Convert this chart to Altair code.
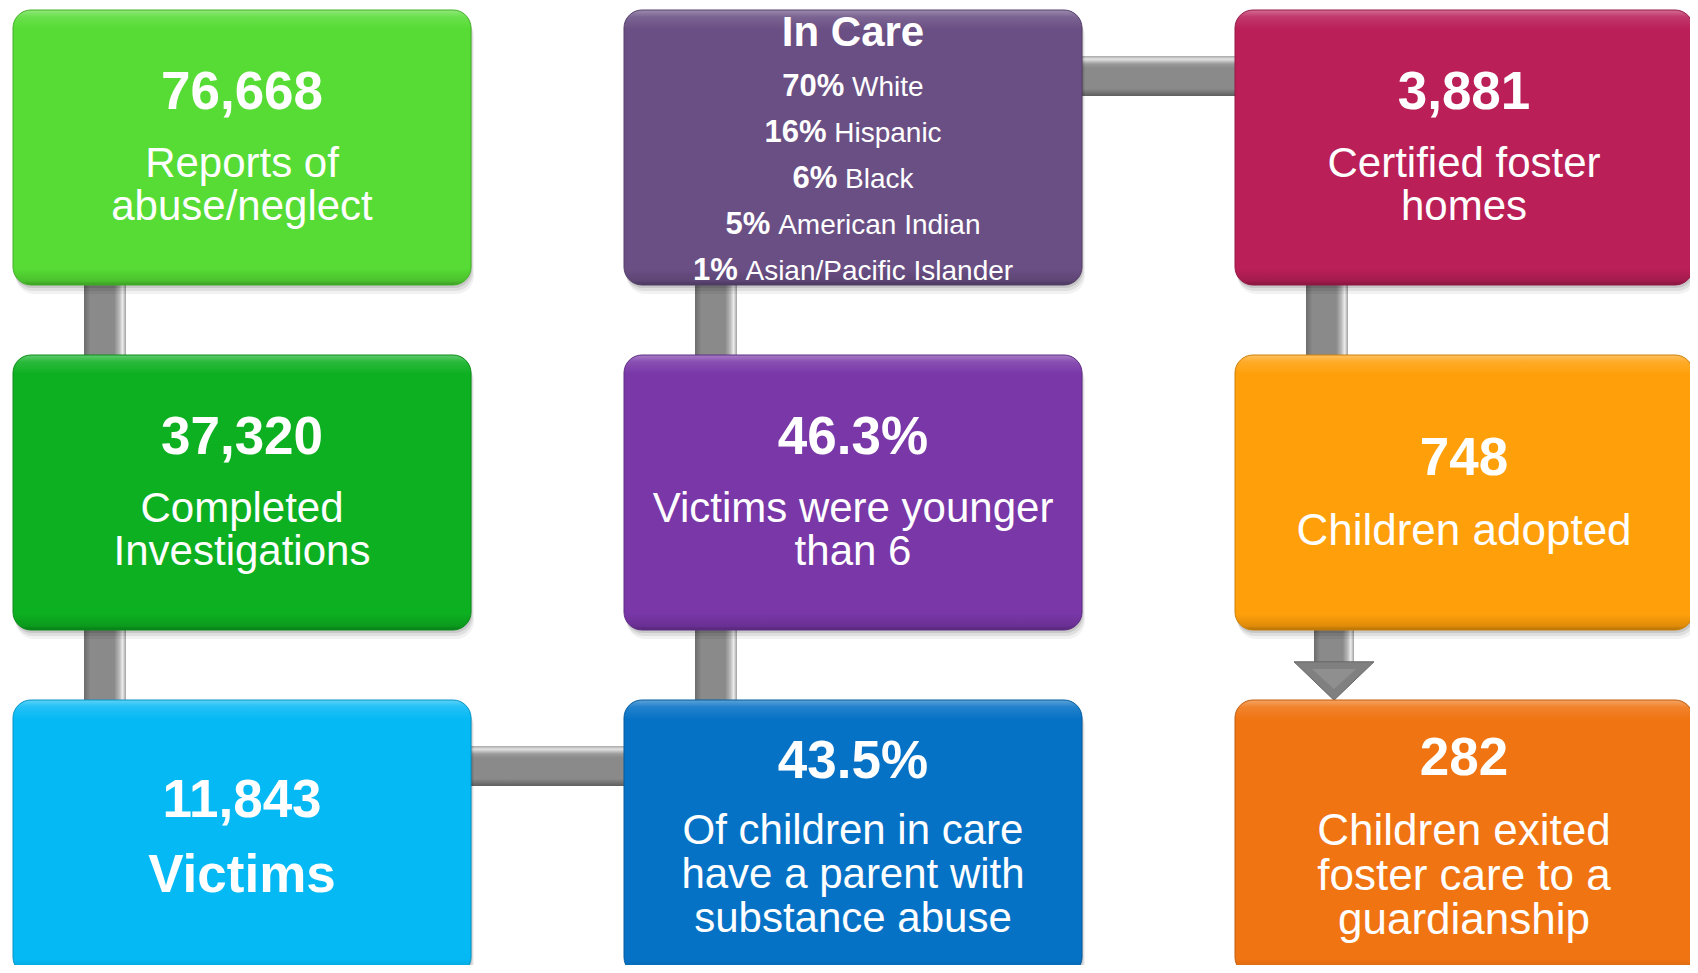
import altair as alt
import pandas as pd

# ---------------- data ----------------
box_numbers = ["76,668", "37,320", "11,843", "In Care", "46.3%", "43.5%", "3,881", "748", "282"]
box_labels = [
    ["Reports of", "abuse/neglect"],
    ["Completed", "Investigations"],
    ["Victims"],
    [],
    ["Victims were younger", "than 6"],
    ["Of children in care", "have a parent with", "substance abuse"],
    ["Certified foster", "homes"],
    ["Children adopted"],
    ["Children exited", "foster care to a", "guardianship"],
]
box_cols = [0, 0, 0, 1, 1, 1, 2, 2, 2]
box_rows = [0, 1, 2, 0, 1, 2, 0, 1, 2]
box_colors = ["#56DC34", "#0DB021", "#05B9F5", "#6A4F84", "#7937A8",
              "#0672C6", "#BA1F58", "#FFA00B", "#F07412"]

in_care_pcts = ["70%", "16%", "6%", "5%", "1%"]
in_care_groups = ["White", "Hispanic", "Black", "American Indian", "Asian/Pacific Islander"]

# connectors (col, row) of the upper / left box
vlink_col = [0, 0, 1, 1, 2]
vlink_row = [0, 1, 0, 1, 0]
hlink_col = [1, 0]
hlink_row = [0, 2]
arrow_col = [2]
arrow_row = [1]

# ---------------- layout / style ----------------
W, H = 1682, 957
LEFT, TOP = 13, 10
PITCH_X, PITCH_Y = 611, 345
BOX_W, BOX_H = 458, 275
RADIUS = 18
NUM_FS = 53
label_fs = [42, 42, 53, 0, 42, 42, 42, 44, 44]
label_gap = [68, 68, 75, 0, 68, 66, 68, 70, 70]
label_lh = [43.5, 43.5, 43.5, 0, 43.5, 44, 43.5, 44.5, 44.5]
bold_label_boxes = {"11,843"}

AR = {' ': 278, 'A': 667, 'B': 667, 'H': 722, 'I': 278, 'P': 667, 'W': 944, 'a': 556,
      'c': 500, 'd': 556, 'e': 556, 'f': 278, 'h': 556, 'i': 222, 'k': 500, 'l': 222,
      'm': 833, 'n': 556, 'p': 556, 'r': 333, 's': 500, 't': 278, '/': 278}


def width_reg(s, fs):
    return sum(AR.get(ch, 556) for ch in s) * fs / 1000.0


def width_bold(s, fs):
    return sum(889 if ch == '%' else 556 for ch in s) * fs / 1000.0


def shade(hexc, f):
    r, g, b = (int(hexc[i:i + 2], 16) for i in (1, 3, 5))
    if f >= 0:
        r, g, b = (int(c + (255 - c) * f) for c in (r, g, b))
    else:
        r, g, b = (int(c * (1 + f)) for c in (r, g, b))
    return "#%02x%02x%02x" % (r, g, b)


def bx(c):
    return LEFT + c * PITCH_X


def by(r):
    return TOP + r * PITCH_Y


xs = alt.Scale(domain=[8, 8 + W], nice=False, zero=False)
ys = alt.Scale(domain=[8, 8 + H], nice=False, zero=False, reverse=True)


def X(f):
    return alt.X(f"{f}:Q", scale=xs, axis=None)


def Y(f):
    return alt.Y(f"{f}:Q", scale=ys, axis=None)


layers = []

# ---------------- connectors ----------------
vrows = []
for c, r in zip(vlink_col, vlink_row):
    vrows.append(dict(x0=bx(c) + 71, x1=bx(c) + 113, y0=by(r) + BOX_H - 6, y1=by(r + 1) + 6))
for c, r in zip(arrow_col, arrow_row):
    vrows.append(dict(x0=bx(c) + 79, x1=bx(c) + 119, y0=by(r) + BOX_H - 6, y1=by(r + 1) - 34))
vdf = pd.DataFrame(vrows)
vgrad = alt.Gradient(gradient="linear", x1=0, x2=1, y1=0, y2=0, stops=[
    alt.GradientStop(color="#6c6c6c", offset=0),
    alt.GradientStop(color="#8a8a8a", offset=0.15),
    alt.GradientStop(color="#8a8a8a", offset=0.72),
    alt.GradientStop(color="#b8b8b8", offset=0.84),
    alt.GradientStop(color="#ececec", offset=0.92),
    alt.GradientStop(color="#a0a0a0", offset=1)])
layers.append(alt.Chart(vdf).mark_rect(color=vgrad, clip=True).encode(
    x=X("x0"), x2="x1", y=Y("y0"), y2="y1"))

hrows = []
for c, r in zip(hlink_col, hlink_row):
    hrows.append(dict(x0=bx(c) + BOX_W - 6, x1=bx(c + 1) + 6, y0=by(r) + 46, y1=by(r) + 86))
hdf = pd.DataFrame(hrows)
hgrad = alt.Gradient(gradient="linear", x1=0, x2=0, y1=0, y2=1, stops=[
    alt.GradientStop(color="#a8a8a8", offset=0),
    alt.GradientStop(color="#e2e2e2", offset=0.08),
    alt.GradientStop(color="#9a9a9a", offset=0.2),
    alt.GradientStop(color="#8a8a8a", offset=0.3),
    alt.GradientStop(color="#8a8a8a", offset=0.82),
    alt.GradientStop(color="#5e5e5e", offset=1)])
layers.append(alt.Chart(hdf).mark_rect(color=hgrad, clip=True).encode(
    x=X("x0"), x2="x1", y=Y("y0"), y2="y1"))

# arrow head
adf = pd.DataFrame([dict(x=bx(c) + 99, y=by(r + 1) - 19) for c, r in zip(arrow_col, arrow_row)])
layers.append(alt.Chart(adf).mark_point(
    shape="M-1,-0.48L1,-0.48L0,0.48Z", size=6400, filled=True, color="#808080",
    opacity=1, stroke="#666666", strokeWidth=1, clip=True).encode(x=X("x"), y=Y("y")))
layers.append(alt.Chart(adf).mark_point(
    shape="M-0.55,-0.3L0.55,-0.3L0,0.2Z", size=6400, filled=True, color="#9a9a9a",
    opacity=0.6, clip=True).encode(x=X("x"), y=Y("y")))

# ---------------- boxes ----------------
bdf = pd.DataFrame(dict(num=box_numbers, col=box_cols, row=box_rows, color=box_colors))
bdf["x0"] = [bx(c) for c in bdf["col"]]
bdf["x1"] = bdf["x0"] + BOX_W
bdf["y0"] = [by(r) for r in bdf["row"]]
bdf["y1"] = bdf["y0"] + BOX_H

# shadows
for dx, dy, op in [(1, 3, 0.10), (2, 6, 0.08), (3, 9, 0.05)]:
    sdf = bdf.assign(x0=bdf["x0"] + dx, x1=bdf["x1"] + dx, y0=bdf["y0"] + dy, y1=bdf["y1"] + dy)
    layers.append(alt.Chart(sdf).mark_rect(color="#000000", opacity=op, cornerRadius=RADIUS,
                                            clip=True).encode(
        x=X("x0"), x2="x1", y=Y("y0"), y2="y1"))

for i in range(len(bdf)):
    base = bdf["color"].iloc[i]
    grad = alt.Gradient(gradient="linear", x1=0, x2=0, y1=0, y2=1, stops=[
        alt.GradientStop(color=shade(base, 0.35), offset=0),
        alt.GradientStop(color=shade(base, 0.12), offset=0.025),
        alt.GradientStop(color=base, offset=0.07),
        alt.GradientStop(color=base, offset=0.94),
        alt.GradientStop(color=shade(base, -0.12), offset=0.985),
        alt.GradientStop(color=shade(base, -0.3), offset=1)])
    layers.append(alt.Chart(bdf.iloc[[i]]).mark_rect(
        color=grad, cornerRadius=RADIUS, stroke=shade(base, -0.2), strokeWidth=1,
        clip=True).encode(x=X("x0"), x2="x1", y=Y("y0"), y2="y1"))

# ---------------- texts ----------------
trows = []
for i in range(len(bdf)):
    x0 = float(bdf["x0"].iloc[i])
    y0 = float(bdf["y0"].iloc[i])
    cx = x0 + BOX_W / 2
    cy = y0 + BOX_H / 2
    num = bdf["num"].iloc[i]
    labels = box_labels[i]
    if num == "In Care":
        tb = cy - 104.5
        trows.append(dict(x=cx, y=tb + 3, text=num, fs=42, wt="bold", al="center"))
        for k, (p, g) in enumerate(zip(in_care_pcts, in_care_groups)):
            yb = tb + 53 + k * 46
            wb = width_bold(p, 31)
            sp = width_reg(" ", 28)
            wr = width_reg(g, 28)
            start = cx - (wb + sp + wr) / 2
            trows.append(dict(x=start, y=yb, text=p, fs=31, wt="bold", al="left"))
            trows.append(dict(x=start + wb + sp, y=yb, text=g, fs=28, wt="normal", al="left"))
        continue
    boldlab = num in bold_label_boxes
    gap = label_gap[i]
    lh = label_lh[i]
    n = len(labels)
    b0 = cy - 2 - (gap + (n - 1) * lh - 38) / 2
    trows.append(dict(x=cx, y=b0, text=num, fs=NUM_FS, wt="bold", al="center"))
    for k, lab in enumerate(labels):
        trows.append(dict(x=cx, y=b0 + gap + k * lh, text=lab, fs=label_fs[i],
                          wt="bold" if boldlab else "normal", al="center"))
tdf = pd.DataFrame(trows)

for weight in ["bold", "normal"]:
    for align in ["center", "left"]:
        sub = tdf[(tdf["wt"] == weight) & (tdf["al"] == align)]
        if len(sub) == 0:
            continue
        layers.append(alt.Chart(sub).mark_text(
            font="Liberation Sans", fontWeight=weight, align=align, baseline="alphabetic",
            color="white", clip=True).encode(
            x=X("x"), y=Y("y"), text="text:N", size=alt.Size("fs:Q", scale=None, legend=None)))

chart = alt.layer(*layers).properties(
    width=W, height=H, padding=0, background="white",
    autosize=alt.AutoSizeParams(type="none")
).configure_view(stroke=None)

chart.save("out.html", embed_options={"renderer": "svg", "actions": False})
